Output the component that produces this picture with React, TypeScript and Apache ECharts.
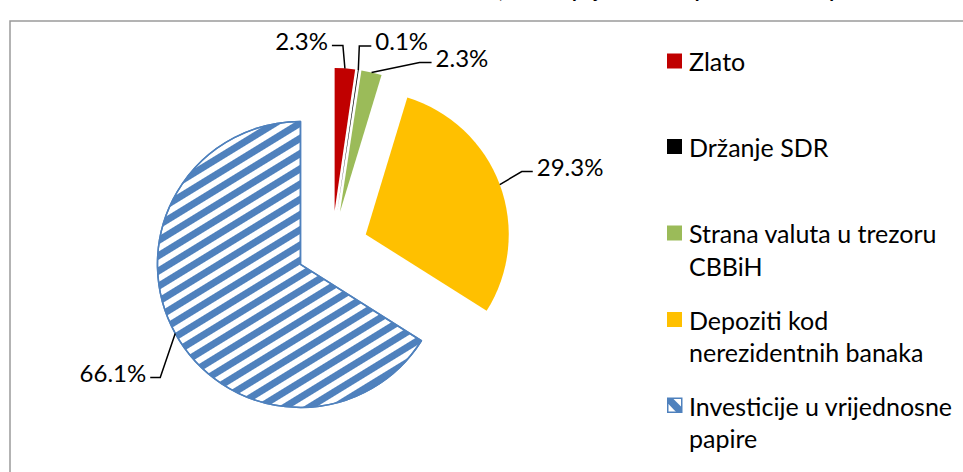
import React, { useEffect, useRef } from 'react';
import * as echarts from 'echarts';

const categories = [
  'Zlato',
  'Držanje SDR',
  'Strana valuta u trezoru CBBiH',
  'Depoziti kod nerezidentnih banaka',
  'Investicije u vrijednosne papire',
];
const legendLines = [
  ['Zlato'],
  ['Držanje SDR'],
  ['Strana valuta u trezoru', 'CBBiH'],
  ['Depoziti kod', 'nerezidentnih banaka'],
  ['Investicije u vrijednosne', 'papire'],
];
const values = [2.3, 0.1, 2.3, 29.3, 66.1];
const colors = ['#C00000', '#000000', '#9BBB59', '#FFC000', '#4F81BD'];
const titleText = 'Grafikon 5.1: Struktura deviznih rezervi CBBiH, učešće pojedinih komponenata u ukupnom';

const FONT = 'Lato, "Open Sans", sans-serif';
const CX = 332;
const CY = 247;
const R = 143;
const OFF = 36;
// leader line shapes: [dx to elbow, dy to elbow, horizontal run]
const leader = [
  [-2, -23, -11],
  [1, -24, 12],
  [48, -10, 12],
  [22, -13, 11],
  [-15, 44, -10],
];
const legendX = 667;
const legendCenters = [61, 146.5, 233, 319.5, 405.5];

function edgePoint(i: number): [number, number] {
  const total = values.reduce((a, b) => a + b, 0);
  let before = 0;
  for (let j = 0; j < i; j++) before += values[j];
  const mid = ((before + values[i] / 2) / total) * Math.PI * 2;
  const dx = Math.sin(mid);
  const dy = -Math.cos(mid);
  return [CX + (R + OFF) * dx, CY + (R + OFF) * dy];
}

export default function App() {
  const ref = useRef<HTMLDivElement>(null);
  useEffect(() => {
    if (!ref.current) return;
    const chart = echarts.init(ref.current, undefined, { renderer: 'svg' });

    const legendGraphics: any[] = [];
    categories.forEach((name, i) => {
      const c = legendCenters[i];
      if (i === 4) {
        legendGraphics.push({
          type: 'rect',
          shape: { x: legendX + 0.75, y: c - 7.25, width: 14, height: 14 },
          style: { fill: '#fff', stroke: colors[i], lineWidth: 1.5 },
        });
        legendGraphics.push({
          type: 'polygon',
          shape: {
            points: [
              [legendX + 1, c - 7],
              [legendX + 6, c - 7],
              [legendX + 15, c + 2],
              [legendX + 15, c + 7.5],
              [legendX + 10, c + 7.5],
              [legendX + 1, c - 2],
            ],
          },
          style: { fill: colors[i] },
        });
      } else {
        legendGraphics.push({
          type: 'rect',
          shape: { x: legendX, y: c - 7.5, width: 15, height: 15 },
          style: { fill: colors[i] },
        });
      }
      legendGraphics.push({
        type: 'text',
        x: legendX + 22,
        y: c - 16.25,
        style: {
          text: legendLines[i].join('\n'),
          font: `25px ${FONT}`,
          fill: '#000',
          lineHeight: 32.5,
          align: 'left',
          verticalAlign: 'top',
        },
      });
    });

    const labelGraphics: any[] = [];
    values.forEach((v, i) => {
      const [x0, y0] = edgePoint(i);
      const [a, b, c] = leader[i];
      const x1 = x0 + a;
      const y1 = y0 + b;
      const x2 = x1 + c;
      const right = c > 0;
      labelGraphics.push({
        type: 'polyline',
        shape: {
          points: [
            [x0, y0],
            [x1, y1],
            [x2, y1],
          ],
        },
        style: { stroke: '#000', lineWidth: 1.5, fill: 'none' },
        z: 10,
      });
      labelGraphics.push({
        type: 'text',
        x: right ? x2 + 4 : x2 - 4,
        y: y1 - 5,
        style: {
          text: v.toFixed(1) + '%',
          font: `24px ${FONT}`,
          fill: '#000',
          align: right ? 'left' : 'right',
          verticalAlign: 'middle',
        },
        z: 10,
      });
    });

    const option: any = {
      animation: false,
      backgroundColor: '#fff',
      graphic: [
        {
          type: 'rect',
          shape: { x: 10, y: 21, width: 1000, height: 500 },
          style: { fill: 'none', stroke: '#9a9a9a', lineWidth: 1.5 },
          z: -1,
        },
        {
          type: 'text',
          x: 488,
          y: 0,
          style: {
            text: titleText,
            font: `bold 19.5px ${FONT}`,
            fill: '#000',
            align: 'center',
            verticalAlign: 'bottom',
          },
        },
        ...legendGraphics,
        ...labelGraphics,
      ],
      series: [
        {
          type: 'pie',
          center: [CX, CY],
          radius: R,
          startAngle: 90,
          clockwise: true,
          selectedMode: 'multiple',
          selectedOffset: OFF,
          avoidLabelOverlap: false,
          emphasis: { disabled: true },
          label: { show: false },
          labelLine: { show: false },
          data: categories.map((name, i) => {
            const base: any = {
              name,
              value: values[i],
              selected: true,
              itemStyle: { color: colors[i], borderWidth: 0 },
            };
            if (i === 4) {
              base.itemStyle = {
                color: '#ffffff',
                borderColor: colors[i],
                borderWidth: 1.5,
                decal: {
                  symbol: 'rect',
                  symbolSize: 1,
                  dashArrayX: [1, 0],
                  dashArrayY: [7, 6],
                  rotation: -0.55,
                  color: colors[i],
                },
              };
            }
            base.select = { itemStyle: base.itemStyle };
            return base;
          }),
        },
      ],
    };
    chart.setOption(option);
    return () => chart.dispose();
  }, []);
  return (
    <div
      ref={ref}
      style={{ position: 'fixed', left: 0, top: 0, width: 963, height: 472 }}
    />
  );
}
